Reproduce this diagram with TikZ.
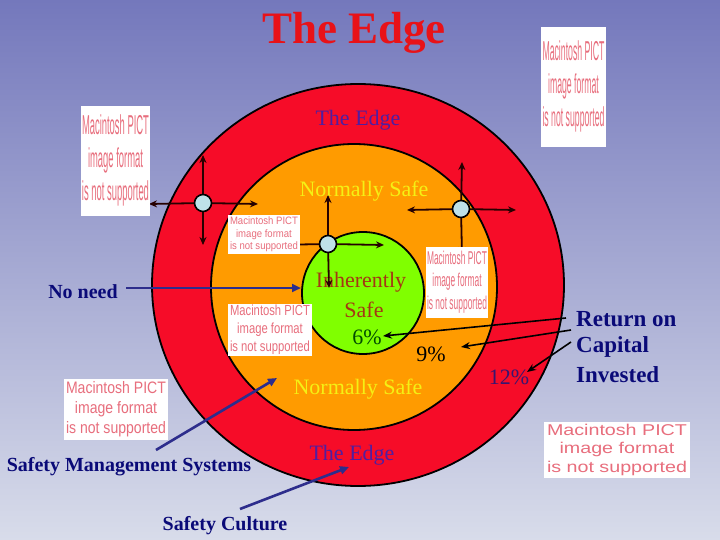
\documentclass[tikz,border=0pt]{standalone}
\usepackage{fontspec}
\setmainfont{Liberation Serif}
\newfontfamily\pictfont{Liberation Sans}
\usetikzlibrary{arrows.meta}
\definecolor{bgtop}{RGB}{116,120,188}
\definecolor{bgmid}{RGB}{168,172,212}
\definecolor{bgbot}{RGB}{216,220,234}
\definecolor{ringred}{RGB}{246,12,40}
\definecolor{ringorange}{RGB}{255,155,0}
\definecolor{ringgreen}{RGB}{128,255,0}
\definecolor{edgepurple}{RGB}{80,30,160}
\definecolor{safeyellow}{RGB}{245,240,20}
\definecolor{inhbrown}{RGB}{165,55,20}
\definecolor{navytext}{RGB}{10,10,120}
\definecolor{navyarrow}{RGB}{45,45,140}
\definecolor{pictpink}{RGB}{232,110,125}
\definecolor{hubblue}{RGB}{190,225,232}
\definecolor{titlered}{RGB}{232,18,24}
\newcommand{\pictph}[7]{%
  \node[pictbg, minimum width=#4pt, minimum height=#5pt] (#1) at (#2,#3)
    {\resizebox{#6pt}{#7pt}{\pictfont\begin{tabular}{@{}c@{}}Macintosh PICT\\image format\\is not supported\end{tabular}}};}
\begin{document}
\begin{tikzpicture}[x=1pt,y=-1pt,
  pictbg/.style={fill=white, draw=none, inner sep=0pt, text=pictpink},
  ringtext/.style={font=\fontsize{22}{24}\selectfont, inner sep=0pt},
  sidelabel/.style={font=\bfseries\fontsize{20}{22}\selectfont, text=navytext, inner sep=0pt},
  biglabel/.style={font=\bfseries\fontsize{23}{25}\selectfont, text=navytext, inner sep=0pt, anchor=west},
  bluearrow/.style={draw=navyarrow, line width=2.6pt, -{Triangle[length=9pt,width=8pt]}},
  blackarrow/.style={draw=black, line width=1.6pt, -{Stealth[length=9pt,width=7pt]}},
  crossarrow/.style={draw=black!85!red, line width=1.8pt, -{Stealth[length=8pt,width=7pt]}},
  hub/.style={circle, draw=black, line width=1.6pt, fill=hubblue, minimum size=17pt, inner sep=0pt},
  ring/.style={draw=black, line width=1.8pt}]
\useasboundingbox (0,0) rectangle (720,540);
% background
\shade[top color=bgtop, middle color=bgmid, bottom color=bgbot] (0,0) rectangle (720,540);
% rings
\fill[ringred, ring] (358,285) ellipse [x radius=206, y radius=201];
\fill[ringorange, ring] (354,287) circle [radius=143];
\fill[ringgreen, ring] (363,293) circle [radius=61];
% title
\node[font=\bfseries\fontsize{45}{48}\selectfont, text=titlered, inner sep=0pt] (title) at (354,33) {The Edge};
% ring labels
\node[ringtext, text=edgepurple] (edgetop) at (358,120) {The Edge};
\node[ringtext, text=safeyellow] (safetop) at (364,191) {Normally Safe};
\node[ringtext, text=inhbrown] (inh1) at (361,282) {Inherently};
\node[ringtext, text=inhbrown] (inh2) at (364,310) {Safe};
\node[ringtext, text=black!50!green!60!black] (p6) at (367,337) {6\%};
\node[ringtext, text=black] (p9) at (431,354) {9\%};
\node[ringtext, text=safeyellow] (safebot) at (358,389) {Normally Safe};
\node[ringtext, text=edgepurple] (edgebot) at (352,455) {The Edge};
\node[ringtext, text=edgepurple!70!black] (p12) at (509,377) {12\%};
% side labels
\node[sidelabel] (noneed) at (83,292) {No need};
\node[sidelabel] (sms) at (129,467) {Safety Management Systems};
\node[sidelabel] (culture) at (225,526) {Safety Culture};
\node[biglabel] (ret1) at (576,319) {Return on};
\node[biglabel] (ret2) at (576,347) {Capital};
\node[biglabel] (ret3) at (576,375) {Invested};
% blue arrows
\coordinate (noneedS) at (126,288);
\coordinate (noneedE) at (301,288);
\coordinate (smsS) at (156,450);
\coordinate (smsE) at (277,378);
\coordinate (culS) at (240,509);
\coordinate (culE) at (349,467);
\draw[bluearrow] (noneedS) -- (noneedE);
\draw[bluearrow] (smsS) -- (smsE);
\draw[bluearrow] (culS) -- (culE);
% black arrows from Return on Capital Invested
\coordinate (r1S) at (566,318);
\coordinate (r1E) at (383,336);
\coordinate (r2S) at (571,330);
\coordinate (r2E) at (461,347);
\coordinate (r3S) at (571,342);
\coordinate (r3E) at (527,372);
\draw[blackarrow] (r1S) -- (r1E);
\draw[blackarrow] (r2S) -- (r2E);
\draw[blackarrow] (r3S) -- (r3E);
% crosses
\coordinate (c1) at (203,203);
\coordinate (c1u) at (203,155);
\coordinate (c1d) at (203,245);
\coordinate (c1l) at (149,204);
\coordinate (c1r) at (258,204);
\coordinate (c2) at (328,244);
\coordinate (c2u) at (328,195);
\coordinate (c2d) at (329,288);
\coordinate (c2l) at (270,245);
\coordinate (c2r) at (384,245);
\coordinate (c3) at (461,209);
\coordinate (c3u) at (462,162);
\coordinate (c3d) at (462,255);
\coordinate (c3l) at (407,210);
\coordinate (c3r) at (516,210);
\foreach \c in {c1,c2,c3}{
  \foreach \d in {u,d,l,r}{ \draw[crossarrow] (\c) -- (\c\d); }
}
\node[hub] (h1) at (c1) {};
\node[hub] (h2) at (c2) {};
\node[hub] (h3) at (c3) {};
% image placeholders
\pictph{pic1}{573.5}{87}{65}{120}{62}{56}
\pictph{pic2}{115.5}{161}{69}{110}{67}{56}
\pictph{pic3}{264}{234.5}{72}{37}{68}{22}
\pictph{pic4}{457}{282.5}{62}{71}{60}{38}
\pictph{pic5}{270}{330}{84}{48}{80}{30}
\pictph{pic6}{116}{409.5}{104}{61}{100}{34}
\pictph{pic7}{617}{450}{146}{52}{140}{32}
\end{tikzpicture}
\end{document}
